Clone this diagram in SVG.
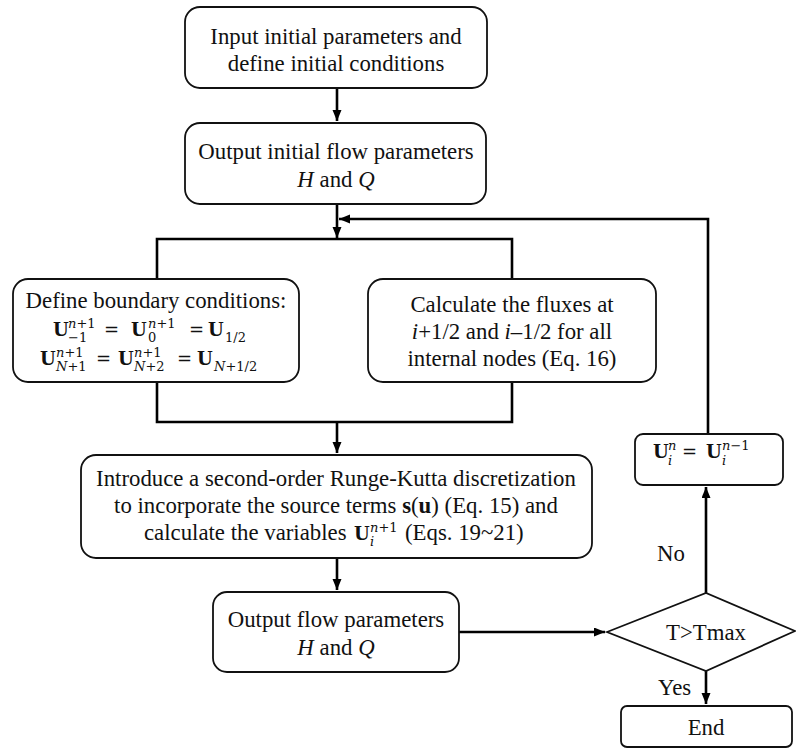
<svg xmlns="http://www.w3.org/2000/svg" width="796" height="749" viewBox="0 0 796 749">
<defs>
<style>
.box{fill:#fff;stroke:#111;stroke-width:1.8}
.con{fill:none;stroke:#000;stroke-width:2.6}
.t{font-family:"Liberation Serif","Times New Roman",serif;font-size:22.8px;fill:#111}
.c{text-anchor:middle}
.m{font-family:"DejaVu Serif",serif;font-size:18px;fill:#111}
.mb{font-weight:bold}
.s{font-size:13px}
.it{font-style:italic}
</style>
<marker id="ah" markerUnits="userSpaceOnUse" markerWidth="12" markerHeight="10" refX="11" refY="4.5" orient="auto">
<path d="M0,0 L11,4.5 L0,9 z" fill="#000"/>
</marker>
</defs>
<rect width="796" height="749" fill="#fff"/>

<g id="connectors">
<path class="con" d="M337,88 V121" marker-end="url(#ah)"/>
<path class="con" d="M337,204 V238" marker-end="url(#ah)"/>
<path class="con" d="M708,434 V219 H339" marker-end="url(#ah)"/>
<path class="con" d="M157,279 V239 H512 V279"/>
<path class="con" d="M157,382 V422 H512 V382"/>
<path class="con" d="M337,422 V453" marker-end="url(#ah)"/>
<path class="con" d="M337,558 V590" marker-end="url(#ah)"/>
<path class="con" d="M459,632 H605" marker-end="url(#ah)"/>
<path class="con" d="M706,593 V487" marker-end="url(#ah)"/>
<path class="con" d="M706,671 V704" marker-end="url(#ah)"/>
</g>

<g id="n1">
<rect class="box" x="185" y="7" width="302" height="81" rx="15"/>
<text class="t c" x="336" y="44">Input initial parameters and</text>
<text class="t c" x="336" y="71">define initial conditions</text>
</g>

<g id="n2">
<rect class="box" x="185" y="123" width="301" height="81" rx="15"/>
<text class="t c" x="336" y="159">Output initial flow parameters</text>
<text class="t c" x="336" y="187"><tspan class="it">H</tspan> and <tspan class="it">Q</tspan></text>
</g>

<g id="n3">
<rect class="box" x="13" y="279" width="286" height="103" rx="15"/>
<text class="t c" x="156" y="308">Define boundary conditions:</text>
<text class="m mb" x="53" y="336">U</text>
<text class="m s" x="68" y="328"><tspan class="it">n</tspan>+1</text>
<text class="m s" x="68" y="342">−1</text>
<text class="m" x="104" y="336">=</text>
<text class="m mb" x="131" y="336">U</text>
<text class="m s" x="148" y="328"><tspan class="it">n</tspan>+1</text>
<text class="m s" x="148" y="342">0</text>
<text class="m" x="189" y="336">=</text>
<text class="m mb" x="208" y="336">U</text>
<text class="m s" x="225" y="342">1/2</text>
<text class="m mb" x="40" y="365">U</text>
<text class="m s" x="56" y="357"><tspan class="it">n</tspan>+1</text>
<text class="m s" x="56" y="371"><tspan class="it">N</tspan>+1</text>
<text class="m" x="96" y="365">=</text>
<text class="m mb" x="118" y="365">U</text>
<text class="m s" x="134" y="357"><tspan class="it">n</tspan>+1</text>
<text class="m s" x="134" y="371"><tspan class="it">N</tspan>+2</text>
<text class="m" x="177" y="365">=</text>
<text class="m mb" x="197" y="365">U</text>
<text class="m s" x="214" y="371"><tspan class="it">N</tspan>+1/2</text>
</g>

<g id="n4">
<rect class="box" x="368" y="279" width="288" height="103" rx="15"/>
<text class="t c" x="512" y="312">Calculate the fluxes at</text>
<text class="t c" x="512" y="339"><tspan class="it">i</tspan>+1/2 and <tspan class="it">i</tspan>–1/2 for all</text>
<text class="t c" x="512" y="366">internal nodes (Eq. 16)</text>
</g>

<g id="n5">
<rect class="box" x="81" y="455" width="511" height="103" rx="15"/>
<text class="t c" x="336" y="486">Introduce a second-order Runge-Kutta discretization</text>
<text class="t c" x="336" y="513">to incorporate the source terms <tspan font-weight="bold">s</tspan>(<tspan font-weight="bold">u</tspan>) (Eq. 15) and</text>
<text class="t" x="144" y="540">calculate the variables</text>
<text class="m mb" x="354" y="540">U</text>
<text class="m s" x="370" y="532"><tspan class="it">n</tspan>+1</text>
<text class="m s it" x="370" y="546">i</text>
<text class="t" x="405" y="540">(Eqs. 19~21)</text>
</g>

<g id="n6">
<rect class="box" x="213" y="592" width="246" height="80" rx="14"/>
<text class="t c" x="336" y="627">Output flow parameters</text>
<text class="t c" x="336" y="655"><tspan class="it">H</tspan> and <tspan class="it">Q</tspan></text>
</g>

<g id="n7">
<rect class="box" x="635" y="434" width="148" height="51" rx="8"/>
<text class="m mb" x="653" y="458">U</text>
<text class="m s it" x="668" y="450">n</text>
<text class="m s it" x="668" y="465">i</text>
<text class="m" x="682" y="458">=</text>
<text class="m mb" x="706" y="458">U</text>
<text class="m s" x="722" y="450"><tspan class="it">n</tspan>−1</text>
<text class="m s it" x="722" y="465">i</text>
</g>

<g id="n8">
<polygon class="box" points="607,632 706,593 795,631 706,671"/>
<text class="t c" x="706" y="640">T&gt;Tmax</text>
</g>

<g id="n9">
<rect class="box" x="621" y="706" width="171" height="41" rx="6"/>
<text class="t c" x="706" y="735">End</text>
</g>

<g id="labels">
<text class="t" x="657" y="561">No</text>
<text class="t" x="658" y="695">Yes</text>
</g>
</svg>
